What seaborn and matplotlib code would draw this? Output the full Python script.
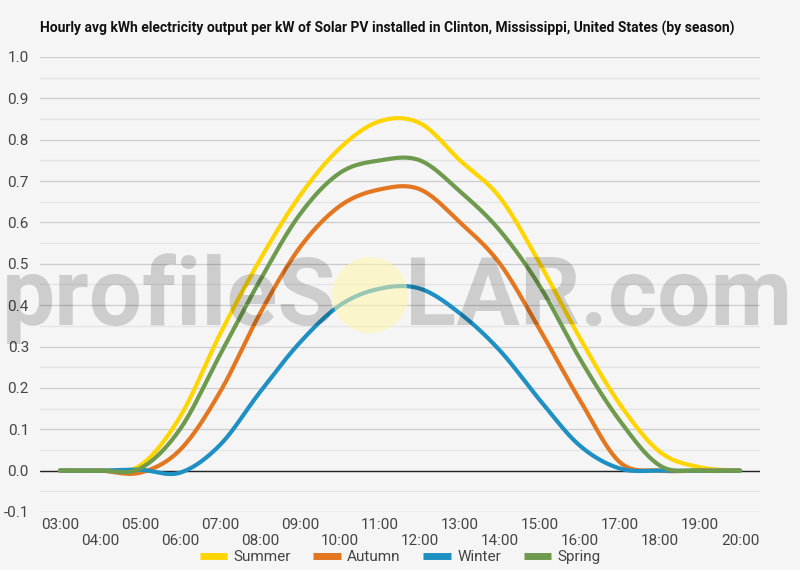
import numpy as np
import pandas as pd
import matplotlib
matplotlib.use("Agg")
import matplotlib.pyplot as plt
from matplotlib.patches import Ellipse
from matplotlib.ticker import MultipleLocator
import seaborn as sns

sns.set_theme(style="white")
plt.rcParams["font.family"] = ["Roboto", "DejaVu Sans"]

hours = list(range(3, 21))
hour_labels = ["%02d:00" % h for h in hours]

summer = [0, 0, 0.012, 0.13, 0.33, 0.51, 0.665, 0.78, 0.845, 0.84, 0.75, 0.66, 0.50, 0.32, 0.16, 0.045, 0.008, 0]
autumn = [0, 0, -0.005, 0.05, 0.19, 0.38, 0.54, 0.64, 0.68, 0.68, 0.60, 0.50, 0.34, 0.17, 0.02, 0, 0, 0]
winter = [0, 0, 0.002, -0.005, 0.062, 0.19, 0.31, 0.40, 0.44, 0.44, 0.38, 0.29, 0.17, 0.06, 0.005, 0, 0, 0]
spring = [0, 0, 0.005, 0.10, 0.28, 0.46, 0.62, 0.72, 0.75, 0.75, 0.675, 0.58, 0.445, 0.27, 0.12, 0.012, 0, 0]

seasons = ["Summer", "Autumn", "Winter", "Spring"]
colors = {"Summer": "#ffd500", "Autumn": "#e4761f", "Winter": "#1e90c3", "Spring": "#6e9a4e"}
series = {"Summer": summer, "Autumn": autumn, "Winter": winter, "Spring": spring}


def smooth(x, y, n=20):
    # catmull-rom curve through the hourly points, just for drawing
    x = np.asarray(x, float)
    y = np.asarray(y, float)
    xp = np.concatenate([[x[0]], x, [x[-1]]])
    yp = np.concatenate([[y[0]], y, [y[-1]]])
    xs, ys = [], []
    for i in range(1, len(xp) - 2):
        t = np.linspace(0, 1, n, endpoint=False)
        for arr, out in ((xp, xs), (yp, ys)):
            p0, p1, p2, p3 = arr[i - 1], arr[i], arr[i + 1], arr[i + 2]
            m1 = (p2 - p0) / 2
            m2 = (p3 - p1) / 2
            h00 = 2 * t**3 - 3 * t**2 + 1
            h10 = t**3 - 2 * t**2 + t
            h01 = -2 * t**3 + 3 * t**2
            h11 = t**3 - t**2
            out.extend(h00 * p1 + h10 * m1 + h01 * p2 + h11 * m2)
    xs.append(x[-1])
    ys.append(y[-1])
    return np.array(xs), np.array(ys)


rows = []
for s in seasons:
    xs, ys = smooth(hours, series[s])
    rows.append(pd.DataFrame({"hour": xs, "kwh": ys, "season": s}))
df = pd.concat(rows)

bg = "#f5f5f5"
fig = plt.figure(figsize=(8, 5.7), dpi=100, facecolor=bg)
ax = fig.add_axes([0.05, 0.1018, 0.90, 0.7982], facecolor=bg)

sns.lineplot(data=df, x="hour", y="kwh", hue="season", palette=colors,
             hue_order=seasons, linewidth=3.0, sort=False, legend=False, ax=ax, zorder=3)

ax.set_xlim(2.5, 20.5)
ax.set_ylim(-0.1, 1.0)
yt = np.round(np.arange(-0.1, 1.01, 0.1), 1)
ax.set_yticks(yt)
ax.set_yticklabels(["%.1f" % v for v in yt])
ax.yaxis.set_minor_locator(MultipleLocator(0.05))
ax.set_xticks(hours)
ax.set_xticklabels([lab if i % 2 == 0 else "\n" + lab for i, lab in enumerate(hour_labels)])
ax.grid(axis="y", which="major", color="#cccccc", linewidth=0.9)
ax.grid(axis="y", which="minor", color="#e4e4e4", linewidth=0.9)
ax.axhline(0, color="#222222", linewidth=1.0, zorder=2)
ax.tick_params(axis="both", which="both", length=0, labelsize=11, labelcolor="#444444")
ax.tick_params(axis="y", pad=8)
ax.tick_params(axis="x", pad=4)
ax.set_xlabel("")
ax.set_ylabel("")
for sp in ax.spines.values():
    sp.set_visible(False)

# watermark
fig.text(0.42, 0.43, "profileS", fontsize=68, fontweight="bold", color="black", alpha=0.16,
         ha="right", va="baseline", zorder=5)
fig.text(0.506, 0.43, "LAR.com", fontsize=68, fontweight="bold", color="black", alpha=0.16,
         ha="left", va="baseline", zorder=5)
fig.patches.append(Ellipse((0.4625, 0.482), 76 / 800, 76 / 570, transform=fig.transFigure,
                           facecolor="#fff6a8", alpha=0.55, edgecolor="none", zorder=5))

fig.text(0.05, 0.95, "Hourly avg kWh electricity output per kW of Solar PV installed in Clinton, Mississippi, United States (by season)",
         fontsize=10, fontweight="bold", color="#111111", ha="left", va="center")

handles = [plt.Line2D([], [], color=colors[s], linewidth=5, solid_capstyle="butt") for s in seasons]
fig.legend(handles, seasons, loc="center", bbox_to_anchor=(0.5, 0.022), ncol=4, frameon=False,
           fontsize=11, handlelength=1.8, columnspacing=1.5, handletextpad=0.4,
           labelcolor="#444444")

fig.savefig("out.png", dpi=100, facecolor=bg)
